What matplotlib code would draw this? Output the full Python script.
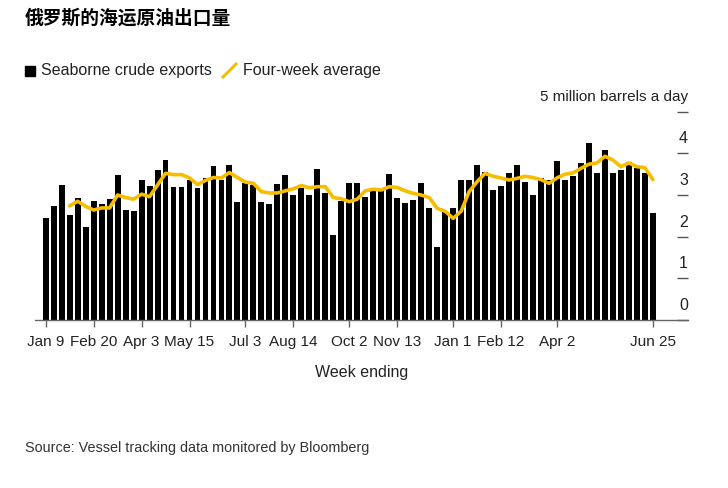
import numpy as np
import pandas as pd
import matplotlib
matplotlib.use('Agg')
import matplotlib.pyplot as plt
from matplotlib.lines import Line2D
from matplotlib.patches import Rectangle

plt.rcParams['font.family'] = ['Liberation Sans', 'DejaVu Sans']

# weekly seaborne crude exports, million barrels a day (week ending Jan 9 2022 .. Jun 25 2023)
exports = [2.46, 2.73, 3.23, 2.52, 2.92, 2.24, 2.85, 2.78, 2.90, 3.47,
           2.63, 2.61, 3.37, 3.21, 3.61, 3.85, 3.20, 3.20, 3.37, 3.18,
           3.40, 3.69, 3.37, 3.72, 2.83, 3.29, 3.24, 2.83, 2.78, 3.26,
           3.49, 3.01, 3.16, 2.99, 3.62, 3.04, 2.05, 2.86, 3.28, 3.28,
           2.95, 3.11, 3.10, 3.51, 2.94, 2.80, 2.89, 3.29, 2.69, 1.75,
           2.59, 2.70, 3.37, 3.37, 3.72, 3.56, 3.13, 3.21, 3.52, 3.71,
           3.31, 3.00, 3.40, 3.36, 3.81, 3.36, 3.45, 3.77, 4.24, 3.52,
           4.08, 3.54, 3.61, 3.80, 3.64, 3.54, 2.56]

# four-week average, starts with the 4th week
avg4 = [2.74, 2.85, 2.73, 2.64, 2.69, 2.69, 3.00, 2.94, 2.90, 3.02,
        2.96, 3.24, 3.52, 3.49, 3.49, 3.41, 3.25, 3.35, 3.42, 3.41,
        3.54, 3.42, 3.31, 3.28, 3.08, 3.05, 3.05, 3.10, 3.15, 3.23,
        3.17, 3.20, 3.20, 2.94, 2.91, 2.84, 2.90, 3.10, 3.14, 3.12,
        3.20, 3.18, 3.10, 3.04, 3.00, 2.94, 2.68, 2.61, 2.44, 2.61,
        3.08, 3.32, 3.52, 3.45, 3.41, 3.36, 3.40, 3.45, 3.42, 3.37,
        3.28, 3.41, 3.50, 3.53, 3.64, 3.74, 3.77, 3.93, 3.84, 3.68,
        3.77, 3.68, 3.66, 3.37]

weeks = pd.date_range('2022-01-09', periods=len(exports), freq='7D')
tick_dates = ['2022-01-09', '2022-02-20', '2022-04-03', '2022-05-15', '2022-07-03',
              '2022-08-14', '2022-10-02', '2022-11-13', '2023-01-01', '2023-02-12',
              '2023-04-02', '2023-06-25']
tick_labels = ['Jan 9', 'Feb 20', 'Apr 3', 'May 15', 'Jul 3', 'Aug 14',
               'Oct 2', 'Nov 13', 'Jan 1', 'Feb 12', 'Apr 2', 'Jun 25']
y_ticks = [0, 1, 2, 3, 4, 5]
y_labels = ['0', '1', '2', '3', '4', '5 million barrels a day']

W, H = 728, 488
fig = plt.figure(figsize=(W / 100, H / 100), dpi=100)
ax = fig.add_axes([35 / W, 1 - 320 / H, 653 / W, 208.3 / H])

x = np.arange(len(exports))
ax.bar(x, exports, width=0.74, color='black', zorder=2)
ax.plot(x[3:], avg4, color='#f7bd00', lw=2.6, solid_joinstyle='round',
        solid_capstyle='round', zorder=3)

ax.set_xlim(-1.34, 80.4)
ax.set_ylim(0, 5)
for s in ['top', 'right', 'left']:
    ax.spines[s].set_visible(False)
ax.spines['bottom'].set_color('#666666')
ax.spines['bottom'].set_linewidth(1.0)

tick_idx = [weeks.get_loc(pd.Timestamp(d)) for d in tick_dates]
ax.set_xticks(tick_idx)
ax.set_xticklabels(tick_labels, fontsize=11, color='#222222')
ax.tick_params(axis='x', length=5, width=1, color='#666666', pad=6)

ax.yaxis.tick_right()
ax.set_yticks(y_ticks)
ax.tick_params(axis='y', direction='in', length=8, width=1, color='#555555', labelright=False)
for v, lab in zip(y_ticks, y_labels):
    ax.annotate(lab, xy=(1, v), xycoords=('axes fraction', 'data'),
                xytext=(0, 10.5), textcoords='offset points',
                ha='right', va='center', fontsize=11.5 if v < 5 else 11, color='#222222')

ax.set_xlabel('Week ending', fontsize=11.5, color='#222222', labelpad=11)

fig.text(25 / W, 1 - 18 / H, '俄罗斯的海运原油出口量', fontsize=13.5, fontweight='bold',
         family=['Noto Sans CJK SC', 'DejaVu Sans'], va='center', ha='left', color='black')

# legend
fig.add_artist(Rectangle((25 / W, 1 - 76 / H), 10 / W, 10 / H, color='black',
                         transform=fig.transFigure))
fig.text(41 / W, 1 - 71 / H, 'Seaborne crude exports', fontsize=11.5, va='center',
         ha='left', color='#222222')
fig.add_artist(Line2D([223 / W, 236 / W], [1 - 77 / H, 1 - 64 / H], color='#f7bd00',
                      lw=2.2, transform=fig.transFigure))
fig.text(243 / W, 1 - 71 / H, 'Four-week average', fontsize=11.5, va='center',
         ha='left', color='#222222')

fig.text(25 / W, 1 - 448 / H, 'Source: Vessel tracking data monitored by Bloomberg',
         fontsize=10.4, va='center', ha='left', color='#333333')

fig.savefig('out.png', dpi=100)
